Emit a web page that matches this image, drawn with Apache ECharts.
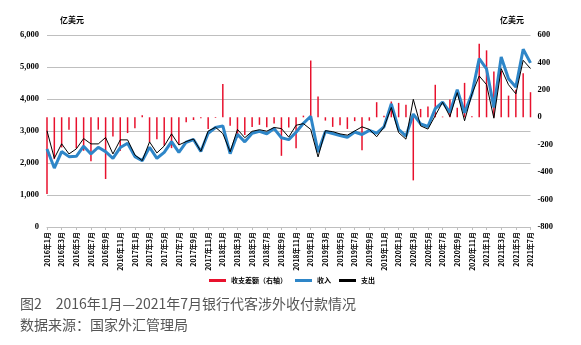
<!DOCTYPE html>
<html>
<head>
<meta charset="utf-8">
<script src="https://cdn.jsdelivr.net/npm/echarts@6/dist/echarts.min.js"></script>
<style>
html,body{margin:0;padding:0;background:#fff;}
#c{width:581px;height:345px;}
</style>
</head>
<body>
<div id="c"></div>
<script>
const categories = [
'2016年1月','2016年2月','2016年3月','2016年4月','2016年5月','2016年6月','2016年7月','2016年8月','2016年9月','2016年10月','2016年11月','2016年12月',
'2017年1月','2017年2月','2017年3月','2017年4月','2017年5月','2017年6月','2017年7月','2017年8月','2017年9月','2017年10月','2017年11月','2017年12月',
'2018年1月','2018年2月','2018年3月','2018年4月','2018年5月','2018年6月','2018年7月','2018年8月','2018年9月','2018年10月','2018年11月','2018年12月',
'2019年1月','2019年2月','2019年3月','2019年4月','2019年5月','2019年6月','2019年7月','2019年8月','2019年9月','2019年10月','2019年11月','2019年12月',
'2020年1月','2020年2月','2020年3月','2020年4月','2020年5月','2020年6月','2020年7月','2020年8月','2020年9月','2020年10月','2020年11月','2020年12月',
'2021年1月','2021年2月','2021年3月','2021年4月','2021年5月','2021年6月','2021年7月'
];
// 收入 (left axis, 亿美元)
const income = [
2440,1843,2356,2199,2209,2524,2283,2492,2356,2147,2482,2618,
2199,2073,2492,2147,2330,2670,2335,2649,2735,2360,2930,3110,
3160,2290,2900,2660,2930,2990,2915,3075,2790,2730,2960,3240,
3460,2340,2985,2920,2860,2800,2970,2890,3020,2930,3130,3850,
3055,2840,3530,3220,3140,3700,3905,3580,4290,3570,4160,5260,
4940,3735,5310,4634,4372,5555,5130
];
// 支出 (left axis, 亿美元)
const expense = [
3005,2147,2600,2283,2440,2764,2597,2597,2796,2283,2723,2723,
2251,2073,2660,2314,2530,2911,2565,2670,2750,2366,3000,3115,
2920,2350,3050,2790,2990,3040,2995,3110,3075,2810,3180,3230,
3050,2190,3010,2980,2910,2870,3000,3130,3050,2820,3120,3735,
2950,2745,3990,3160,3060,3480,3900,3450,4200,3320,4150,4720,
4450,3400,4950,4445,4162,5209,4950
];
// 收支差额 (right axis, 亿美元)
const balance = [
-560,-305,-220,-90,-227,-244,-320,-90,-450,-140,-245,-115,
-80,15,-180,-160,-207,-225,-200,-37,-20,-7,-85,-5,
243,-61,-150,-130,-70,-55,-73,-45,-281,-75,-225,12,
414,151,-24,-70,-58,-85,-28,-240,-25,110,12,115,
105,92,-460,61,78,237,5,129,70,251,7,537,
488,334,340,158,200,322,183
];
const leftTicks = {min:0, max:6000, interval:1000};
const rightTicks = {min:-800, max:600, interval:200};

const chart = echarts.init(document.getElementById('c'), null, {renderer:'canvas'});
const numFont = 'Liberation Serif';
chart.setOption({
  animation:false,
  backgroundColor:'#fff',
  grid:{left:47, top:35, width:483.5, height:192},
  legend:{
    data:['收支差额（右轴）','收入','支出'],
    left:209, top:277, itemWidth:17, itemHeight:3, itemGap:8, icon:'rect', padding:0,
    textStyle:{fontSize:7, fontWeight:'bold', color:'#000', fontFamily:'Noto Sans CJK SC'}
  },
  xAxis:{
    type:'category', data:categories, boundaryGap:false,
    axisLine:{show:true, lineStyle:{color:'#bfbfbf', width:1}},
    axisTick:{show:true, interval:1, length:3, lineStyle:{color:'#bfbfbf'}},
    axisLabel:{interval:1, rotate:90, fontSize:7, fontWeight:'bold', color:'#000', margin:5, fontFamily:'Noto Sans CJK SC'},
    splitLine:{show:false}
  },
  yAxis:[
    {type:'value', position:'left', min:leftTicks.min, max:leftTicks.max, interval:leftTicks.interval,
     axisLine:{show:false}, axisTick:{show:false},
     axisLabel:{margin:8, fontSize:8.5, fontWeight:'bold', color:'#000', fontFamily:numFont,
       formatter:v=>v.toLocaleString('en-US')},
     splitLine:{show:true, lineStyle:{color:'#bfbfbf', width:1}}},
    {type:'value', position:'right', min:rightTicks.min, max:rightTicks.max, interval:rightTicks.interval,
     axisLine:{show:false}, axisTick:{show:false},
     axisLabel:{margin:7, fontSize:8.5, fontWeight:'bold', color:'#000', fontFamily:numFont},
     splitLine:{show:false}}
  ],
  series:[
    {name:'收支差额（右轴）', type:'bar', yAxisIndex:1, data:balance, barWidth:1.5,
     itemStyle:{color:'#e8112d'}},
    {name:'收入', type:'line', yAxisIndex:0, data:income, symbol:'none',
     lineStyle:{color:'#2e86c8', width:3}, itemStyle:{color:'#2e86c8'}},
    {name:'支出', type:'line', yAxisIndex:0, data:expense, symbol:'none',
     lineStyle:{color:'#000', width:1}, itemStyle:{color:'#000'}}
  ],
  graphic:[
    {type:'text', left:60, top:16, style:{text:'亿美元', font:'bold 8px "Noto Sans CJK SC"', fill:'#000'}},
    {type:'text', left:500, top:16, style:{text:'亿美元', font:'bold 8px "Noto Sans CJK SC"', fill:'#000'}},
    {type:'text', left:20, top:297, style:{text:'图2　2016年1月—2021年7月银行代客涉外收付款情况', font:'14px "Noto Sans CJK SC"', fill:'#555'}},
    {type:'text', left:20, top:318, style:{text:'数据来源：国家外汇管理局', font:'14px "Noto Sans CJK SC"', fill:'#555'}}
  ]
});
</script>
</body>
</html>
